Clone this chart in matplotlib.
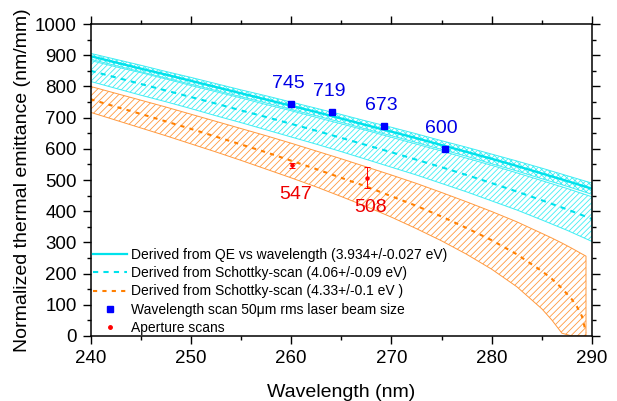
import matplotlib
matplotlib.use('Agg')
import matplotlib.pyplot as plt
from matplotlib.lines import Line2D
from matplotlib.ticker import MultipleLocator

# ---------------- data ----------------
wl_cyan = [240, 242.5, 245, 247.5, 250, 252.5, 255, 257.5, 260, 262.5, 265,
           267.5, 270, 272.5, 275, 277.5, 280, 282.5, 285, 287.5, 290]
qe_center = [897, 877, 857, 838, 818, 798, 778, 758, 738, 718, 697,
             676, 655, 634, 612, 590, 568, 545, 521, 497, 472]
qe_upper = [906, 887, 868, 848, 829, 809, 789, 770, 750, 730, 710,
            689, 669, 648, 626, 605, 583, 561, 538, 514, 490]
qe_lower = [887, 867, 847, 827, 807, 787, 767, 747, 726, 706, 685,
            663, 642, 620, 598, 576, 552, 529, 504, 480, 454]
sk_center = [850, 829, 808, 787, 766, 745, 723, 702, 680, 658, 635,
             612, 589, 565, 541, 516, 490, 463, 435, 406, 375]
sk_upper = [883, 863, 844, 824, 803, 783, 763, 742, 722, 701, 680,
            659, 637, 615, 593, 570, 547, 523, 498, 473, 446]
sk_lower = [816, 794, 772, 751, 729, 706, 684, 661, 638, 615, 591,
            566, 541, 516, 489, 462, 433, 404, 372, 339, 303]

wl_orange = [240, 242.5, 245, 247.5, 250, 252.5, 255, 257.5, 260, 262.5, 265,
             267.5, 270, 272.5, 275, 277.5, 280, 282.5, 285, 286, 287, 288,
             288.5, 289, 289.4]
or_center = [759, 735, 712, 688, 664, 639, 614, 589, 562, 535, 507,
             479, 448, 417, 383, 346, 307, 262, 208, 183, 153, 117,
             94, 63, 11]
or_upper = [800, 778, 756, 734, 711, 688, 665, 642, 618, 593, 568,
            542, 516, 489, 460, 430, 399, 366, 329, 314, 298, 281,
            272, 263, 256]
or_lower = [717, 692, 667, 642, 616, 590, 563, 535, 507, 478, 447,
            415, 381, 344, 305, 262, 214, 158, 87, 51, 9, 0,
            0, 0, 0]

scan_wl = [260.0, 264.1, 269.3, 275.3]
scan_val = [745, 719, 673, 600]

ap_wl = [260.1, 267.6]
ap_val = [547, 508]
ap_err = [8, 35]

legend_labels = ["Derived from QE vs wavelength (3.934+/-0.027 eV)",
                 "Derived from Schottky-scan (4.06+/-0.09 eV)",
                 "Derived from Schottky-scan (4.33+/-0.1 eV )",
                 "Wavelength scan 50\u03bcm rms laser beam size",
                 "Aperture scans"]

# ---------------- style ----------------
plt.rcParams['font.family'] = ['Liberation Sans', 'DejaVu Sans']
plt.rcParams['hatch.linewidth'] = 0.6

CYAN = '#00e2ec'
CYAN_H = '#40eef4'
ORANGE = '#ff7f00'
ORANGE_H = '#ff9a40'
BLUE = '#0000ff'
RED = '#ff0000'

fig = plt.figure(figsize=(6.17, 4.01), dpi=100)
ax = fig.add_axes([0.1467, 0.1621, 0.8128, 0.778])

# bands
ax.fill_between(wl_orange, or_lower, or_upper, facecolor='none',
                edgecolor=ORANGE_H, hatch='/////', linewidth=0.7)
ax.fill_between(wl_cyan, sk_lower, sk_upper, facecolor='none',
                edgecolor=CYAN_H, hatch='//////', linewidth=0.7)
ax.fill_between(wl_cyan, qe_lower, qe_upper, facecolor='none',
                edgecolor=CYAN_H, hatch='xxxxxx', linewidth=0.7)

# center lines
ax.plot(wl_cyan, qe_center, color=CYAN, lw=1.7, ls='-')
ax.plot(wl_cyan, sk_center, color=CYAN, lw=1.5, ls=(0, (2.5, 2.5)))
ax.plot(wl_orange, or_center, color=ORANGE, lw=1.5, ls=(0, (2.0, 2.5)))

# measured points
ax.plot(scan_wl, scan_val, ls='none', marker='s', ms=5, color=BLUE)
ax.errorbar(ap_wl, ap_val, yerr=ap_err, fmt='o', ms=2.2, color=RED,
            ecolor=RED, elinewidth=0.7, capsize=2.5, capthick=0.7)

for x, v in zip(scan_wl, scan_val):
    ax.annotate(str(v), (x, v), xytext=(-2.2, 14.8), textcoords='offset points',
                ha='center', va='center', color='#0000e6', fontsize=14)
for x, v in zip(ap_wl, ap_val):
    ax.annotate(str(v), (x, v), xytext=(2.2, -21.3), textcoords='offset points',
                ha='center', va='center', color='#ee0000', fontsize=14)

# axes
ax.set_xlim(240, 290)
ax.set_ylim(0, 1000)
ax.xaxis.set_major_locator(MultipleLocator(10))
ax.xaxis.set_minor_locator(MultipleLocator(5))
ax.yaxis.set_major_locator(MultipleLocator(100))
ax.yaxis.set_minor_locator(MultipleLocator(50))
ax.tick_params(which='both', direction='out', top=True, right=True,
               labeltop=False, labelright=False, width=1.0, labelsize=13.5)
ax.tick_params(which='major', length=6, pad=4)
ax.tick_params(which='minor', length=3)
for s in ax.spines.values():
    s.set_linewidth(1.1)

ax.set_xlabel('Wavelength (nm)', fontsize=14, labelpad=12)
ax.set_ylabel('Normalized thermal emittance (nm/mm)', fontsize=14, labelpad=3)

handles = [Line2D([], [], color=CYAN, lw=1.6),
           Line2D([], [], color=CYAN, lw=1.5, ls=(0, (2.5, 2.5))),
           Line2D([], [], color=ORANGE, lw=1.5, ls=(0, (2.0, 2.5))),
           Line2D([], [], ls='none', marker='s', ms=5, color=BLUE),
           Line2D([], [], ls='none', marker='o', ms=2.5, color=RED)]
ax.legend(handles, legend_labels, loc='lower left', bbox_to_anchor=(0.0, -0.005),
          frameon=False, fontsize=10, handlelength=2.4, handletextpad=0.3,
          labelspacing=0.3, borderaxespad=0.0, borderpad=0.2)

fig.savefig('out.png', dpi=100)
